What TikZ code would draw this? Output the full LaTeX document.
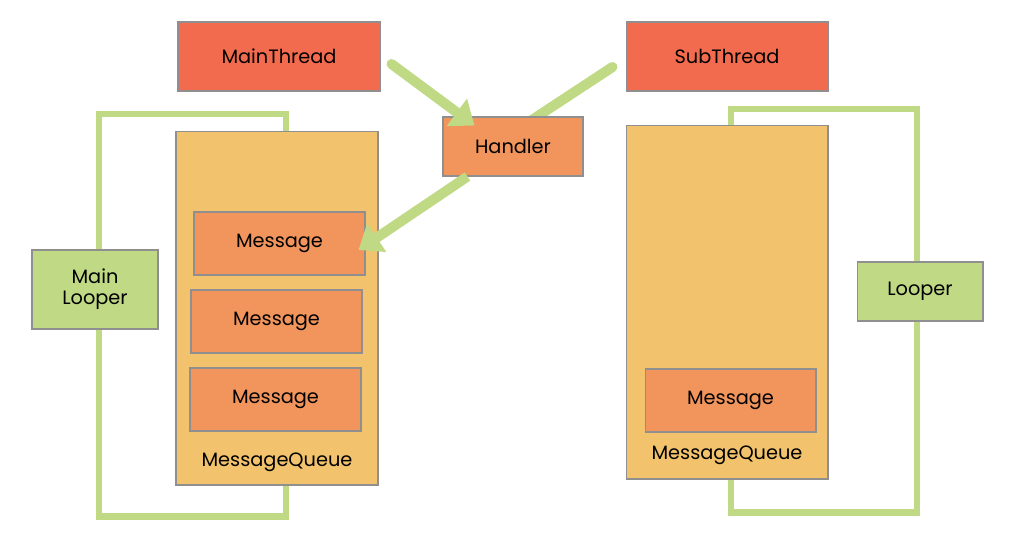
\documentclass[tikz,border=0pt]{standalone}
\usepackage{fontspec}
\setmainfont{Poppins}
\usetikzlibrary{arrows.meta,
	positioning,
	backgrounds,
	calc}
\definecolor{threadred}{HTML}{F26B4E}
\definecolor{msgorange}{HTML}{F2955C}
\definecolor{queueyellow}{HTML}{F2C36C}
\definecolor{loopgreen}{HTML}{C0D985}
\definecolor{edgegray}{HTML}{8F8F8F}
\tikzset{
	box/.style={draw=edgegray, line width=0.6pt, font=\fontsize{11}{13}\selectfont, align=center, inner sep=0pt},
	thread/.style={box, fill=threadred, minimum width=4.04cm, minimum height=1.38cm},
	handlerbox/.style={box, fill=msgorange, minimum width=2.8cm, minimum height=1.18cm},
	queue/.style={box, fill=queueyellow, minimum width=4.04cm, minimum height=7.08cm},
	msg/.style={box, fill=msgorange, minimum width=3.42cm, minimum height=1.26cm},
	looperbox/.style={box, fill=loopgreen, minimum width=2.52cm},
	loopline/.style={loopgreen, line width=6pt*0.57},
	flow/.style={loopgreen, line width=5.7pt, line cap=round, -{Triangle[length=0.44cm,width=0.66cm]}}
}
\begin{document}
\begin{tikzpicture}[x=0.02cm,y=-0.02cm]
\useasboundingbox (0,0) rectangle (1020,538);

\node[thread] (mainthread) at (279,56.5) {MainThread};
\node[thread] (subthread) at (727,56.5) {SubThread};
\node[handlerbox] (handler) at (513,146.5) {Handler};

\node[queue] (mainqueue) at (277,308) {};
\node[queue] (subqueue) at (727,302) {};
\node (mainqueuelbl) at ([yshift=0.46cm]mainqueue.south) {\fontsize{11}{13}\selectfont MessageQueue};
\node (subqueuelbl) at ([yshift=0.48cm]subqueue.south) {\fontsize{11}{13}\selectfont MessageQueue};

\node[msg] (msga) at (279.5,243.5) {Message};
\node[msg] (msgb) at (276.5,321.5) {Message};
\node[msg] (msgc) at (275.5,399.5) {Message};
\node[msg] (msgd) at (730.5,400.5) {Message};

\node[looperbox, minimum height=1.58cm] (mainlooper) at (95,289.5) {Main\\[-1pt]Looper};
\node[looperbox, minimum height=1.18cm] (looper) at (920,291.5) {Looper};

\draw[loopline] ([xshift=0.08cm]mainlooper.north) |- ([xshift=0.18cm,yshift=0.34cm]mainqueue.north) -- ([xshift=0.18cm]mainqueue.north);
\draw[loopline] ([xshift=0.08cm]mainlooper.south) |- ([xshift=0.18cm,yshift=-0.62cm]mainqueue.south) -- ([xshift=0.18cm]mainqueue.south);
\draw[loopline] ([xshift=-0.06cm]looper.north) |- ([xshift=0.08cm,yshift=0.32cm]subqueue.north) -- ([xshift=0.08cm]subqueue.north);
\draw[loopline] ([xshift=-0.06cm]looper.south) |- ([xshift=0.08cm,yshift=-0.66cm]subqueue.south) -- ([xshift=0.08cm]subqueue.south);

\coordinate (maintail) at ([xshift=0.22cm,yshift=-0.15cm]mainthread.east);
\coordinate (subtail) at ([xshift=-0.26cm,yshift=-0.21cm]subthread.west);
\draw[flow] (maintail) -- ([xshift=0.64cm,yshift=-0.18cm]handler.north west);
\begin{scope}[on background layer]
	\draw[flow, -] (subtail) -- ([xshift=0.18cm,yshift=-0.2cm]handler.north);
\end{scope}
\draw[flow, line cap=butt] ([xshift=0.5cm]handler.south west) -- ([xshift=-0.14cm,yshift=-0.13cm]msga.east);
\end{tikzpicture}
\end{document}
